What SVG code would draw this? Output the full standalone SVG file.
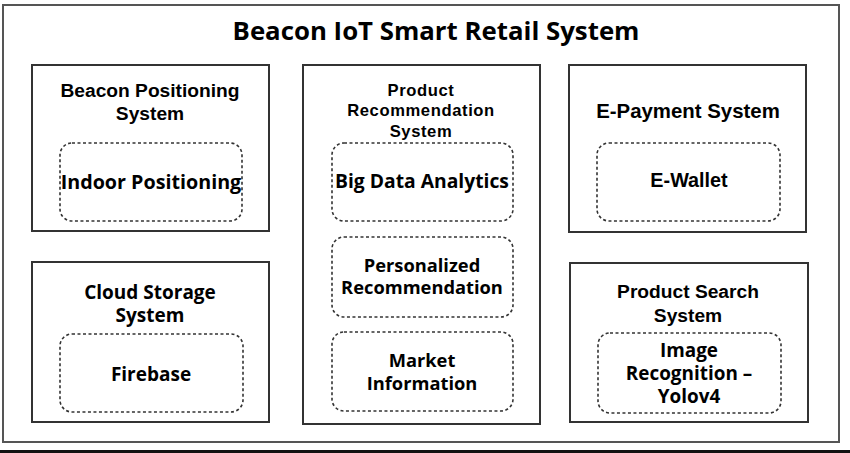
<svg xmlns="http://www.w3.org/2000/svg" width="850" height="453" viewBox="0 0 850 453">
<style>
.frame{fill:#fff;stroke:#555;stroke-width:2}
.box{fill:#fff;stroke:#333;stroke-width:2}
.dash{fill:none;stroke:#333;stroke-width:1.6;stroke-dasharray:3 2.5}
.os{font-family:"Open Sans","DejaVu Sans",sans-serif;font-weight:bold;fill:#000;text-anchor:middle}
.ar{font-family:"Liberation Sans",Arial,sans-serif;font-weight:bold;fill:#000;text-anchor:middle}
</style>
<rect x="0" y="0" width="850" height="453" fill="#fff"/>
<rect class="frame" x="3" y="5" width="836" height="437"/>
<rect x="0" y="450" width="850" height="3" fill="#111"/>
<text class="os" x="436" y="40" font-size="25.8">Beacon IoT Smart Retail System</text>
<g id="connectors"></g>
<g id="beacon-positioning">
<rect class="box" x="32" y="65" width="237" height="166"/>
<text class="ar" x="150" y="97" font-size="19.2">Beacon Positioning</text>
<text class="ar" x="150" y="120" font-size="19.2">System</text>
<g id="indoor-positioning">
<rect class="dash" x="60" y="143" width="182" height="78" rx="12"/>
<text class="os" x="151" y="189" font-size="19.7">Indoor Positioning</text>
</g>
</g>
<g id="cloud-storage">
<rect class="box" x="32" y="262" width="237" height="160"/>
<text class="os" x="150" y="299" font-size="19">Cloud Storage</text>
<text class="os" x="150" y="322" font-size="19">System</text>
<g id="firebase">
<rect class="dash" x="60" y="334" width="183" height="78" rx="12"/>
<text class="os" x="151" y="381" font-size="19">Firebase</text>
</g>
</g>
<g id="product-recommendation">
<rect class="box" x="303" y="65" width="237" height="359"/>
<text class="ar" x="421" y="96" font-size="16.6" letter-spacing="0.6">Product</text>
<text class="ar" x="421" y="116" font-size="16.6" letter-spacing="0.6">Recommendation</text>
<text class="ar" x="421" y="137" font-size="16.6" letter-spacing="0.6">System</text>
<g id="big-data">
<rect class="dash" x="332" y="143" width="181" height="78" rx="12"/>
<text class="os" x="422" y="188" font-size="19.3">Big Data Analytics</text>
</g>
<g id="personalized">
<rect class="dash" x="332" y="237" width="181" height="80" rx="12"/>
<text class="os" x="422" y="272" font-size="18.3">Personalized</text>
<text class="os" x="422" y="294" font-size="18.3">Recommendation</text>
</g>
<g id="market">
<rect class="dash" x="332" y="332" width="181" height="79" rx="12"/>
<text class="os" x="422" y="367" font-size="18.3">Market</text>
<text class="os" x="422" y="390" font-size="18.3">Information</text>
</g>
</g>
<g id="e-payment">
<rect class="box" x="569" y="65" width="237" height="167"/>
<text class="ar" x="688" y="118" font-size="20.4">E-Payment System</text>
<g id="e-wallet">
<rect class="dash" x="597" y="143" width="183" height="78" rx="12"/>
<text class="ar" x="689" y="187" font-size="19.8">E-Wallet</text>
</g>
</g>
<g id="product-search">
<rect class="box" x="570" y="263" width="238" height="159"/>
<text class="ar" x="688" y="298" font-size="19.2">Product Search</text>
<text class="ar" x="688" y="322" font-size="19.2">System</text>
<g id="image-recognition">
<rect class="dash" x="598" y="333" width="183" height="80" rx="12"/>
<text class="os" x="689" y="357" font-size="18.9">Image</text>
<text class="os" x="689" y="380" font-size="18.9">Recognition –</text>
<text class="os" x="689" y="403" font-size="18.9">Yolov4</text>
</g>
</g>
</svg>
